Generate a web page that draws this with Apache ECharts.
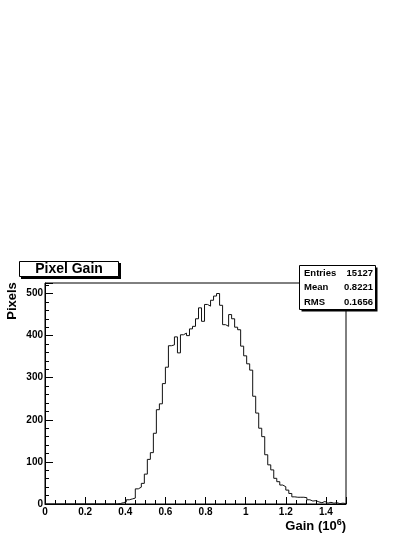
<!DOCTYPE html>
<html>
<head>
<meta charset="utf-8">
<title>Pixel Gain</title>
<script src="https://cdn.jsdelivr.net/npm/echarts@6/dist/echarts.min.js"></script>
<style>
  html, body { margin: 0; padding: 0; background: #fff; }
  #chart { width: 415px; height: 537px; }
</style>
</head>
<body>
<div id="chart"></div>
<script>
// histogram: 100 bins of width 0.015 between 0 and 1.5
const binLow = 0
const binWidth = 0.015
const binCounts = [
  0, 0, 0, 0, 0, 0, 0, 0, 0, 0,
  0, 0, 0, 0, 0, 0, 0, 0, 0, 0,
  0, 0, 0, 0, 1, 3, 5, 10, 12, 14,
  36, 40, 49, 71, 106, 122, 168, 224, 238, 286,
  325, 376, 378, 397, 359, 402, 406, 400, 416, 422,
  440, 466, 434, 474, 470, 484, 494, 500, 472, 426,
  422, 450, 440, 420, 414, 375, 352, 333, 318, 256,
  216, 180, 160, 117, 93, 81, 61, 53, 45, 41,
  33, 25, 17, 16, 16, 16, 15, 10, 7, 8,
  5, 3, 6, 2, 4, 2, 3, 1, 2, 1
]
const statLabels = ['Entries', 'Mean', 'RMS']
const statValues = ['15127', '0.8221', '0.1656']
const histTitle = 'Pixel Gain'
const xTitle = 'Gain (10'
const xTitleExp = '6'
const yTitle = 'Pixels'

const xMax = binLow + binWidth * binCounts.length
const yMax = 525

// step outline: left edge of every bin, plus the right edge of the last one
const histPoints = binCounts.map((c, i) => [binLow + i * binWidth, c])
histPoints.push([xMax, binCounts[binCounts.length - 1]])

const font = '"Liberation Sans", Arial, sans-serif'
const labelStyle = {
  fontFamily: font,
  fontWeight: 'bold',
  fontSize: 10,
  color: '#000',
}

const chart = echarts.init(document.getElementById('chart'), null, {renderer: 'canvas'})

const statRows = []
statLabels.forEach((lab, i) => {
  const y = 273 + i * 14.6
  statRows.push({
    type: 'text', x: 304, y: y,
    style: {text: lab, font: 'bold 9.5px ' + font, fill: '#000', align: 'left', verticalAlign: 'middle'},
  })
  statRows.push({
    type: 'text', x: 373, y: y,
    style: {text: statValues[i], font: 'bold 9.5px ' + font, fill: '#000', align: 'right', verticalAlign: 'middle'},
  })
})

chart.setOption({
  animation: false,
  grid: {
    left: 45, top: 283, right: 69, bottom: 33,
    show: true, borderColor: '#000', borderWidth: 1,
    backgroundColor: 'transparent',
  },
  xAxis: [
    {
      type: 'value', min: 0, max: xMax, interval: 0.2,
      axisLine: {lineStyle: {color: '#000', width: 1}},
      axisTick: {inside: true, length: 7, lineStyle: {color: '#000'}},
      axisLabel: {
        ...labelStyle, margin: 3,
        formatter: v => (v > 1.45 ? '' : String(+v.toFixed(1))),
      },
      splitLine: {show: false},
    },
    {
      type: 'value', min: 0, max: xMax, interval: 0.05, position: 'bottom',
      axisLine: {show: false},
      axisTick: {inside: true, length: 4, lineStyle: {color: '#000'}},
      axisLabel: {show: false},
      splitLine: {show: false},
    },
  ],
  yAxis: [
    {
      type: 'value', min: 0, max: yMax, interval: 100,
      axisLine: {show: true, lineStyle: {color: '#000', width: 1}},
      axisTick: {show: true, inside: true, length: 8, lineStyle: {color: '#000'}},
      axisLabel: {
        ...labelStyle, margin: 2,
        formatter: v => (v > 500 ? '' : String(v)),
      },
      splitLine: {show: false},
    },
    {
      type: 'value', min: 0, max: yMax, interval: 20, position: 'left',
      axisLine: {show: false},
      axisTick: {show: true, inside: true, length: 4, lineStyle: {color: '#000'}},
      axisLabel: {show: false},
      splitLine: {show: false},
    },
  ],
  series: [
    {
      type: 'line',
      step: 'end',
      data: histPoints,
      symbol: 'none',
      lineStyle: {color: '#111', width: 1},
      xAxisIndex: 0,
      yAxisIndex: 0,
    },
  ],
  graphic: [
    // title box with shadow
    {type: 'rect', shape: {x: 21, y: 263, width: 100, height: 16}, style: {fill: '#000'}},
    {type: 'rect', shape: {x: 19.5, y: 261.5, width: 99, height: 15}, style: {fill: '#fff', stroke: '#000', lineWidth: 1}},
    {
      type: 'text', x: 69, y: 269.5,
      style: {text: histTitle, font: 'bold 14px ' + font, fill: '#000', align: 'center', verticalAlign: 'middle'},
    },
    // stats box
    {type: 'rect', shape: {x: 301.5, y: 267.5, width: 76, height: 44}, style: {fill: '#000'}},
    {type: 'rect', shape: {x: 299.5, y: 265.5, width: 76, height: 44}, style: {fill: '#fff', stroke: '#000', lineWidth: 1}},
    ...statRows,
    // axis titles
    {
      type: 'text', x: 12.5, y: 301, rotation: Math.PI / 2,
      style: {text: yTitle, font: 'bold 13px ' + font, fill: '#000', align: 'center', verticalAlign: 'middle'},
    },
    {
      type: 'text', x: 346, y: 526,
      style: {
        text: xTitle + '{e|' + xTitleExp + '}' + ')',
        font: 'bold 13px ' + font, fill: '#000', align: 'right', verticalAlign: 'middle',
        rich: {e: {font: 'bold 9px ' + font, fill: '#000', verticalAlign: 'top', padding: [0, 0, 6, 0]}},
      },
    },
  ],
})
</script>
</body>
</html>
